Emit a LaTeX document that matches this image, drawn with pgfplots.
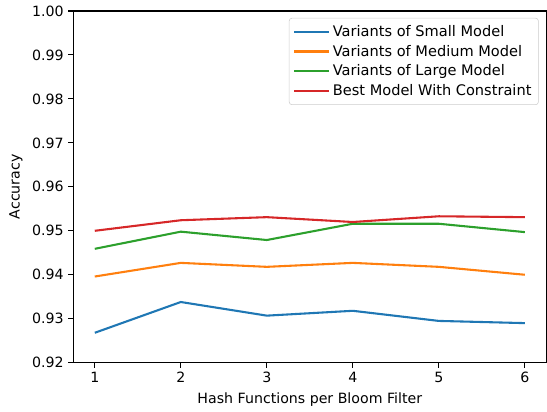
\documentclass[border=0pt]{standalone}
\usepackage{fontspec}
\setmainfont{DejaVu Sans}
\usepackage{pgfplots}
\pgfplotsset{compat=1.18}
\definecolor{tabblue}{HTML}{1F77B4}
\definecolor{taborange}{HTML}{FF7F0E}
\definecolor{tabgreen}{HTML}{2CA02C}
\definecolor{tabred}{HTML}{D62728}
\begin{document}
\begin{tikzpicture}
\begin{axis}[
  scale only axis,
  width=340.8pt, height=253.4pt,
  xmin=0.75, xmax=6.25,
  ymin=0.92, ymax=1.00,
  xtick={1,2,3,4,5,6},
  ytick={0.92,0.93,0.94,0.95,0.96,0.97,0.98,0.99,1.00},
  /pgf/number format/assume math mode=true,
  yticklabel style={/pgf/number format/fixed, /pgf/number format/fixed zerofill, /pgf/number format/precision=2},
  tick label style={font=\fontsize{10.2}{12}\selectfont},
  label style={font=\fontsize{10.2}{12}\selectfont},
  tick align=outside,
  tick pos=left,
  major tick length=3.5pt,
  every tick/.style={black, line width=0.8pt},
  axis line style={line width=0.8pt},
  xlabel={Hash Functions per Bloom Filter},
  ylabel={Accuracy},
  legend style={at={(1,1)}, anchor=north east, xshift=-5.5pt, yshift=-5pt,
    draw=black!20, rounded corners=2pt, fill=white, fill opacity=0.8, text opacity=1,
    font=\fontsize{10.5}{12}\selectfont, row sep=0.8pt, inner sep=3pt},
  legend cell align=left,
  legend image code/.code={\draw[#1, line width=1.5pt] (0pt,0pt) -- (22pt,0pt); \path (0pt,0pt) -- (25pt,0pt);},
  every axis plot/.append style={line width=1.5pt},
]
\addplot[tabblue] coordinates {(1,0.9268) (2,0.9338) (3,0.9307) (4,0.9318) (5,0.9295) (6,0.9290)};
\addlegendentry{Variants of Small Model}
\addplot[taborange] coordinates {(1,0.9396) (2,0.9427) (3,0.9418) (4,0.9427) (5,0.9418) (6,0.9400)};
\addlegendentry{Variants of Medium Model}
\addplot[tabgreen] coordinates {(1,0.9459) (2,0.9498) (3,0.9479) (4,0.9516) (5,0.9516) (6,0.9497)};
\addlegendentry{Variants of Large Model}
\addplot[tabred] coordinates {(1,0.9500) (2,0.9524) (3,0.9531) (4,0.9520) (5,0.9533) (6,0.9531)};
\addlegendentry{Best Model With Constraint}
\end{axis}
\path ([shift={(-52.8pt,-35.1pt)}]current axis.south west) rectangle ([shift={(0.5pt,7.9pt)}]current axis.north east);
\end{tikzpicture}
\end{document}
